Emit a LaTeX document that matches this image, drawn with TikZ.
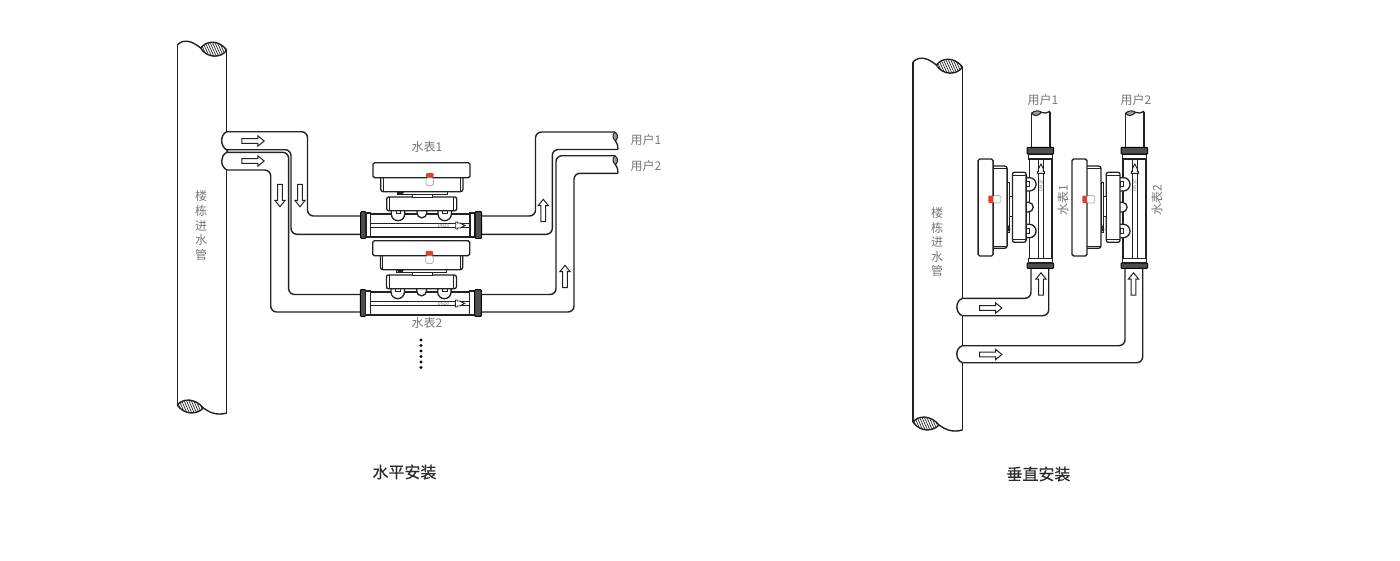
\documentclass[tikz,border=0pt]{standalone}
\usepackage{fontspec}
\setmainfont{Noto Sans CJK SC}
\newfontfamily\ttlfont[FakeBold=0.35]{Noto Sans CJK SC}
\definecolor{ink}{HTML}{222222}
\definecolor{lab}{HTML}{777777}
\definecolor{ttl}{HTML}{2A2A2A}
\definecolor{capred}{HTML}{E8392B}
\definecolor{cutgray}{HTML}{9A9A9A}
\tikzset{
  wall/.style={draw=ink,line width=1.4pt,line join=round},
  pipe/.style={wall,rounded corners=6pt},
  part/.style={draw=ink,line width=1.3pt,fill=white,rounded corners=1.6pt},
  flangeD/.style={draw=black,fill=ink!80,line width=1pt,rounded corners=.8pt},
  flangeW/.style={draw=ink,fill=white,line width=1.3pt},
  blockarr/.style={draw=ink,line width=1pt,fill=white,line join=miter},
  lbl/.style={text=lab,font=\fontsize{12pt}{12pt}\selectfont,inner sep=0pt},
  titlelbl/.style={text=ttl,font=\ttlfont\fontsize{16pt}{16pt}\selectfont,inner sep=0pt}
}
% block arrow: centre, rotation; default points right
\newcommand{\blockarr}[3]{%
  \begin{scope}[shift={(#1,#2)},rotate=#3]
    \draw[blockarr] (-11.2,-2.4)--(4.8,-2.4)--(4.8,-5.2)--(11.2,0)--(4.8,5.2)--(4.8,2.4)--(-11.2,2.4)--cycle;
  \end{scope}}
% water meter: centre, rotation
\newcommand{\wmeter}[3]{%
  \begin{scope}[shift={(#1,#2)},rotate=#3]
    \fill[white] (-50,-14) rectangle (49,11.7);
    \draw[wall,line width=1.7pt] (-50.3,-11)--(49,-11) (-50.3,11.7)--(49,11.7);
    \draw[draw=ink,line width=1pt] (-50.3,-1.7)--(49,-1.7) (-50.3,2.7)--(49,2.7);
    \draw[flangeD] (-60.3,-13.3) rectangle (-55,13.3);
    \draw[flangeW] (-55,-12) rectangle (-50.3,12);
    \draw[flangeW] (49,-12) rectangle (54,12);
    \draw[flangeD] (54,-13.3) rectangle (60.7,13.3);
    \fill[white] (13,-1.3) rectangle (44,2.3);
    \node[transform shape,text=lab,font=\fontsize{4.5pt}{4.5pt}\selectfont,inner sep=0pt] at (22.5,.5) {DN20};
    \draw[ink,line width=.9pt,fill=white] (34.7,-3)--(34.7,4)--(36.5,4)--(36.5,3)--(39,3)--(44,.5)--(39,-2)--(36.5,-2)--(36.5,-3)--cycle;
    % bulbs under the electronics block
    \draw[part,rounded corners=0pt] (-29.7,-14.3)--(-29.7,-11) arc[start angle=180,end angle=360,radius=6.7pt]--(-16.3,-14.3);
    \draw[part,rounded corners=0pt] (17,-14.3)--(17,-11) arc[start angle=180,end angle=360,radius=6.7pt]--(30.4,-14.3);
    \draw[part,rounded corners=0pt] (-4,-14.3)--(-4,-12) arc[start angle=180,end angle=360,radius=4.85pt]--(5.7,-14.3);
    \draw[part,line width=.8pt,rounded corners=0pt] (-25,-14.3) rectangle (-20.3,-11.4);
    \draw[part,line width=.8pt,rounded corners=0pt] (21.7,-14.3) rectangle (26.3,-11.4);
    % block and bases
    \draw[part,rounded corners=2pt] (-34.3,-28) rectangle (35.7,-14.3);
    \draw[ink,line width=.8pt] (-31.3,-28)--(-31.3,-14.3) (32.7,-28)--(32.7,-14.3);
    \draw[part,line width=.9pt,rounded corners=0pt] (-8.3,-31) rectangle (11.7,-28);
    \draw[part,line width=.9pt,rounded corners=0pt] (-24,-33.3) rectangle (26,-31);
    \fill[ink] (-24,-33.3)--(-17,-33.3)--(-18,-31)--(-22,-30)--cycle;
    \fill[ink] (-14.5,-34.8) circle[radius=1.1pt] (-11,-34.8) circle[radius=1.1pt];
    % main body and display
    \draw[part,rounded corners=2.5pt] (-40.3,-50)--(-40.3,-33.3)--(42,-33.3)--(42,-50);
    \draw[part] (-48,-62.3) rectangle (49,-47.3);
    \draw[ink,line width=.7pt] (-38,-47.3)--(-38,-33.8) (39.7,-47.3)--(39.7,-33.8);
    \draw[draw=lab!55,line width=.8pt,fill=white,rounded corners=1.5pt] (5,-47.3) rectangle (12.5,-39.5);
    \fill[capred,rounded corners=1pt] (5,-52) rectangle (12.5,-47.6);
  \end{scope}}
% cut ends of a big pipe
\newcommand{\bigpipe}[2]{%
  \begin{scope}[shift={(#1,#2)}]
    \begin{scope}
      \clip (200.7,48) .. controls (205,42) and (217,38) .. (226.7,50) .. controls (222,58) and (207,59) .. cycle;
      \foreach \k in {0,2.4,...,44}{\draw[ink,line width=.65pt] (196+\k,38)--(206+\k,60);}
    \end{scope}
    \draw[wall] (200.7,48) .. controls (205,42) and (217,38) .. (226.7,50) .. controls (222,58) and (207,59) .. cycle;
    \draw[wall] (177.3,45) .. controls (183,39) and (191,40) .. (200.7,48);
    \begin{scope}
      \clip (177.3,405) .. controls (183,398) and (195,398) .. (203.3,408) .. controls (197,415) and (184,415) .. cycle;
      \foreach \k in {0,2.4,...,44}{\draw[ink,line width=.65pt] (172+\k,395)--(182+\k,418);}
    \end{scope}
    \draw[wall] (177.3,405) .. controls (183,398) and (195,398) .. (203.3,408) .. controls (197,415) and (184,415) .. cycle;
    \draw[wall] (203.3,408) .. controls (209,412) and (216,416) .. (226.7,413);
    \draw[wall] (177.3,45)--(177.3,405);
  \end{scope}}
% lens-shaped cut of a horizontal small pipe
\newcommand{\sidecut}[2]{%
  \draw[wall,fill=cutgray,line width=1pt] (#1,#2) .. controls (#1-3.5,#2+3) and (#1-2,#2+7) .. (#1+.5,#2+9) .. controls (#1+3.5,#2+6) and (#1+3,#2+2) .. cycle;
  \draw[wall,line width=1.3pt] (#1+.5,#2+9) .. controls (#1+2,#2+11.5) and (#1+3.5,#2+14) .. (#1+3,#2+17.5);}
% lens-shaped cut of a vertical small pipe
\newcommand{\topcut}[2]{%
  \draw[wall,fill=cutgray,line width=1pt] (#1,#2+1.5) .. controls (#1+3,#2-1) and (#1+7,#2-1.5) .. (#1+10,#2+.8) .. controls (#1+6,#2+5) and (#1+2,#2+5) .. cycle;
  \draw[wall,line width=1.3pt] (#1+10,#2+.8) .. controls (#1+12,#2+2.5) and (#1+15,#2+1.5) .. (#1+18.3,#2-.3);}
\begin{document}
\begin{tikzpicture}[x=1pt,y=-1pt]
\useasboundingbox (0,0) rectangle (1400,560);
\fill[white] (0,0) rectangle (1400,560);

%%%% left: horizontal installation
\bigpipe{0}{0}
\draw[wall] (226.7,50)--(226.7,131.7);
\draw[wall] (226.7,170)--(226.7,413);
% inlet caps
\draw[wall] (226.7,131.7) .. controls (220,135) and (220,146) .. (226.7,150) .. controls (228,150.8) and (228,151.5) .. (226.7,152.3) .. controls (220,156) and (220,166) .. (226.7,170);
% pipe 1 left
\draw[pipe] (226.7,131.7)--(307.5,131.7)--(307.5,216)--(362,216);
\draw[pipe] (226.7,149.7)--(291,149.7)--(291,234.3)--(362,234.3);
% pipe 2 left
\draw[pipe] (226.7,152.3)--(288.6,152.3)--(288.6,294.5)--(362,294.5);
\draw[pipe] (226.7,170)--(270.7,170)--(270.7,312)--(362,312);
% pipe 1 right
\draw[pipe] (481,216)--(535.5,216)--(535.5,132)--(615,132);
\draw[pipe] (481,234.3)--(552.3,234.3)--(552.3,149.5)--(618,149.5);
% pipe 2 right
\draw[pipe] (481,294.5)--(556,294.5)--(556,155.7)--(615,155.7);
\draw[pipe] (481,312)--(574,312)--(574,173.3)--(618,173.3);
\sidecut{615}{132}
\sidecut{615}{155.7}
\blockarr{253}{141}{0}
\blockarr{253}{161}{0}
\blockarr{280}{195.5}{-90}
\blockarr{300}{195.5}{-90}
\blockarr{543.3}{210.5}{90}
\blockarr{565}{276.5}{90}
\wmeter{421}{225}{0}
\wmeter{420.7}{303}{0}
\foreach \i/\yy in {1/340,2/345.5,3/351,4/356.5,5/362,6/367.5}{\fill[black] (421,\yy) circle[radius=1.7pt];}
\node[lbl] (wm1h) at (427,147) {水表1};
\node[lbl] (wm2h) at (427,323) {水表2};
\node[lbl] (u1h) at (646,140) {用户1};
\node[lbl] (u2h) at (646,166) {用户2};
\node[lbl] (m1a) at (201,196) {楼};
\node[lbl] (m1b) at (201,211) {栋};
\node[lbl] (m1c) at (201,226) {进};
\node[lbl] (m1d) at (201,240) {水};
\node[lbl] (m1e) at (201,255) {管};
\node[titlelbl] (t1) at (404.5,472) {水平安装};

%%%% right: vertical installation
\bigpipe{735.7}{17}
\draw[wall] (962.4,67)--(962.4,298.3);
\draw[wall] (962.4,315.7)--(962.4,345.7);
\draw[wall] (962.4,362.7)--(962.4,430);
\draw[wall] (962.4,298.3) .. controls (955,301) and (955,313) .. (962.4,315.7);
\draw[wall] (962.4,345.7) .. controls (955,348) and (955,360) .. (962.4,362.7);
\draw[pipe] (962.4,298.3)--(1031,298.3)--(1031,262);
\draw[pipe] (962.4,315.7)--(1048.7,315.7)--(1048.7,262);
\draw[pipe] (962.4,345.7)--(1125,345.7)--(1125,262);
\draw[pipe] (962.4,362.7)--(1142.7,362.7)--(1142.7,262);
\draw[wall] (1031.7,150)--(1031.7,113);
\draw[wall] (1050,150)--(1050,111.5);
\draw[wall] (1125.7,150)--(1125.7,113);
\draw[wall] (1144,150)--(1144,111.5);
\topcut{1031.7}{111.5}
\topcut{1125.7}{111.5}
\blockarr{990.7}{308}{0}
\blockarr{990.7}{354.5}{0}
\blockarr{1041}{284}{90}
\blockarr{1133.5}{284}{90}
\wmeter{1040.4}{208}{90}
\wmeter{1134.3}{208}{90}
\node[lbl] (u1v) at (1043,100) {用户1};
\node[lbl] (u2v) at (1136,100) {用户2};
\node[lbl,rotate=90] (wm1v) at (1063,200) {水表1};
\node[lbl,rotate=90] (wm2v) at (1157,200) {水表2};
\node[lbl] (m2a) at (937,213) {楼};
\node[lbl] (m2b) at (937,228) {栋};
\node[lbl] (m2c) at (937,242) {进};
\node[lbl] (m2d) at (937,257) {水};
\node[lbl] (m2e) at (937,271) {管};
\node[titlelbl] (t2) at (1038.5,474) {垂直安装};
\end{tikzpicture}
\end{document}
